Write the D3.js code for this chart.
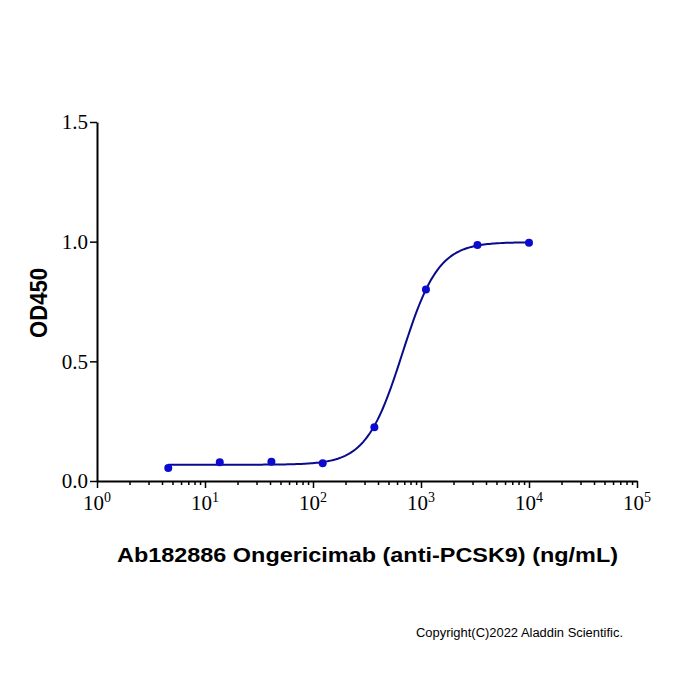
<!DOCTYPE html>
<html>
<head>
<meta charset="utf-8">
<script src="https://cdn.jsdelivr.net/npm/d3@7"></script>
<style>
  body { margin: 0; background: #fff; }
</style>
</head>
<body>
<svg id="chart" width="700" height="700"></svg>
<script>
// concentrations (ng/mL), 3-fold dilution series
const conc = [4.57, 13.7, 41.2, 123, 370, 1111, 3333, 10000];
// measured OD450
const od = [0.054, 0.078, 0.080, 0.074, 0.225, 0.800, 0.986, 0.995];
// 4PL fit: bottom, top, EC50, hill
const fitBottom = 0.068, fitTop = 0.998, fitEC50 = 672, fitHill = 2.6;
const yTicks = [0, 0.5, 1.0, 1.5];
const xDecades = [0, 1, 2, 3, 4, 5];

const svg = d3.select('#chart');
const box = {left: 97, right: 637, top: 122, bottom: 481};

const x = d3.scaleLog().domain([1, 1e5]).range([box.left, box.right]);
const y = d3.scaleLinear().domain([0, 1.5]).range([box.bottom, box.top]);

const g = svg.append('g');

// y axis
const yAxis = g.append('g')
  .attr('transform', `translate(${box.left},0)`)
  .call(d3.axisLeft(y).tickValues(yTicks).tickFormat(d3.format('.1f')).tickSize(7).tickSizeOuter(0));
yAxis.select('.domain').attr('stroke', '#000').attr('stroke-width', 2);
yAxis.selectAll('.tick line').attr('stroke-width', 1.5);
yAxis.selectAll('.tick text')
  .attr('x', -9)
  .style('font-family', '"Liberation Serif", "Times New Roman", serif')
  .style('font-size', '21px')
  .attr('fill', '#000');

// x axis: minor ticks
const minor = [];
xDecades.slice(0, -1).forEach(e => {
  for (let k = 2; k <= 9; k++) minor.push(k * Math.pow(10, e));
});
const xMinor = g.append('g')
  .attr('transform', `translate(0,${box.bottom})`)
  .call(d3.axisBottom(x).tickValues(minor).tickFormat('').tickSize(4).tickSizeOuter(0));
xMinor.select('.domain').remove();
xMinor.selectAll('.tick line').attr('stroke-width', 1.5);

// x axis: major ticks
const xAxis = g.append('g')
  .attr('transform', `translate(0,${box.bottom})`)
  .call(d3.axisBottom(x).tickValues(xDecades.map(e => Math.pow(10, e))).tickFormat('').tickSize(7).tickSizeOuter(0));
xAxis.select('.domain').attr('stroke', '#000').attr('stroke-width', 2);
xAxis.selectAll('.tick line').attr('stroke-width', 1.5);

// x tick labels 10^n
const xl = g.append('g').selectAll('text')
  .data(xDecades)
  .enter()
  .append('text')
  .attr('x', d => x(Math.pow(10, d)))
  .attr('y', box.bottom + 29)
  .style('font-family', '"Liberation Serif", "Times New Roman", serif')
  .style('font-size', '21px')
  .style('text-anchor', 'middle');
xl.append('tspan').text('10');
xl.append('tspan').text(d => d).attr('dy', -8).style('font-size', '14px');

// fitted curve
const fit = c => fitBottom + (fitTop - fitBottom) / (1 + Math.pow(fitEC50 / c, fitHill));
const lo = Math.log10(conc[0]), hi = Math.log10(conc[conc.length - 1]);
const curve = d3.range(0, 201).map(i => {
  const c = Math.pow(10, lo + (hi - lo) * i / 200);
  return [c, fit(c)];
});
g.append('path')
  .datum(curve)
  .attr('d', d3.line().x(d => x(d[0])).y(d => y(d[1])))
  .attr('fill', 'none')
  .attr('stroke', '#0a0a8c')
  .attr('stroke-width', 2);

// points
g.selectAll('circle.pt')
  .data(conc)
  .enter()
  .append('circle')
  .attr('class', 'pt')
  .attr('cx', d => x(d))
  .attr('cy', (d, i) => y(od[i]))
  .attr('r', 4)
  .attr('fill', '#0b0bd0');

// axis titles
svg.append('text')
  .attr('transform', 'translate(47,303) rotate(-90)')
  .attr('x', -35)
  .attr('textLength', 70)
  .attr('lengthAdjust', 'spacingAndGlyphs')
  .style('font-family', '"Liberation Sans", Arial, sans-serif')
  .style('font-weight', 'bold')
  .style('font-size', '23px')
  .text('OD450');

svg.append('text')
  .attr('x', 117)
  .attr('y', 562)
  .attr('textLength', 501)
  .attr('lengthAdjust', 'spacingAndGlyphs')
  .style('font-family', '"Liberation Sans", Arial, sans-serif')
  .style('font-weight', 'bold')
  .style('font-size', '20.5px')
  .text('Ab182886 Ongericimab (anti-PCSK9) (ng/mL)');

svg.append('text')
  .attr('x', 416)
  .attr('y', 637)
  .attr('textLength', 207)
  .attr('lengthAdjust', 'spacingAndGlyphs')
  .style('font-family', '"Liberation Sans", Arial, sans-serif')
  .style('font-size', '12px')
  .text('Copyright(C)2022 Aladdin Scientific.');
</script>
</body>
</html>
